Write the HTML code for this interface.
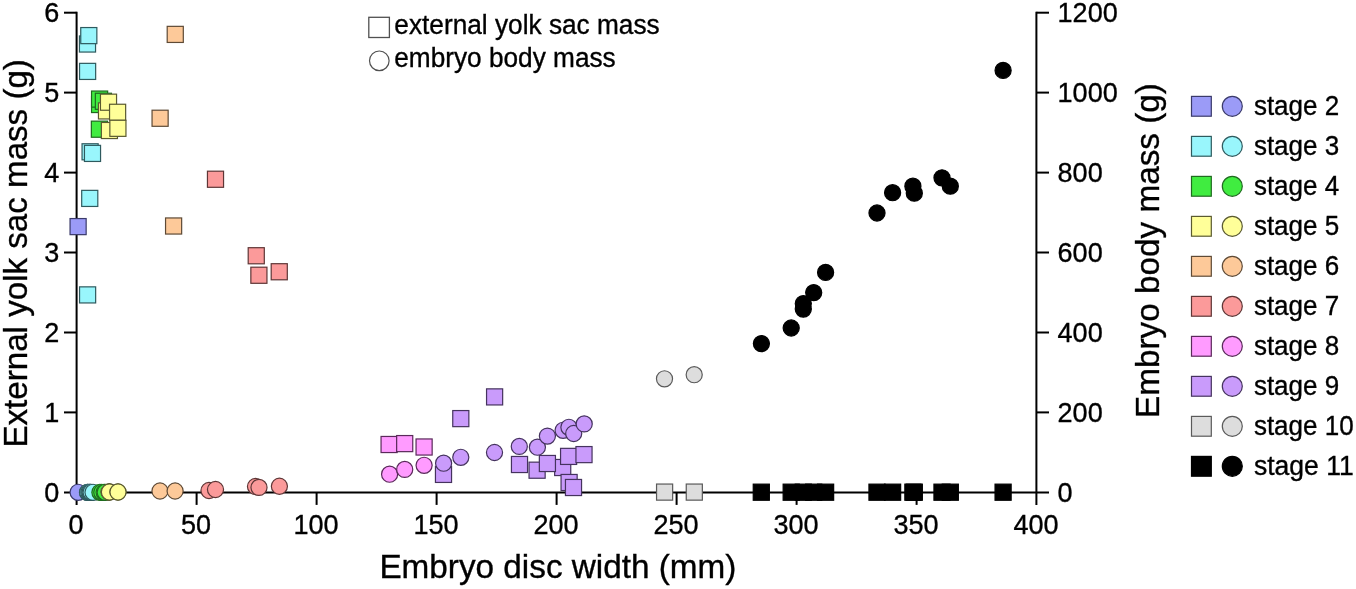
<!DOCTYPE html>
<html lang="en"><head><meta charset="utf-8"><title>Embryo disc width vs yolk sac and body mass</title>
<style>html,body{margin:0;padding:0;background:#fff;}body{width:1356px;height:589px;overflow:hidden;}svg{display:block;}text{font-family:"Liberation Sans",Arial,Helvetica,sans-serif;fill:#000;stroke:#000;stroke-width:0.35px;}</style>
</head><body>
<svg width="1356" height="589" viewBox="0 0 1356 589">
<rect x="0" y="0" width="1356" height="589" fill="#ffffff"/>
<g stroke="#000" stroke-width="2" fill="none" stroke-linecap="butt">
<path d="M76.6 11.7 V504.9"/>
<path d="M64.0 492.4 H1049.0"/>
<path d="M1036.4 11.7 V504.9"/>
<path d="M64.0 412.4 H76.6"/>
<path d="M1036.4 412.4 H1049.0"/>
<path d="M64.0 332.5 H76.6"/>
<path d="M1036.4 332.5 H1049.0"/>
<path d="M64.0 252.5 H76.6"/>
<path d="M1036.4 252.5 H1049.0"/>
<path d="M64.0 172.6 H76.6"/>
<path d="M1036.4 172.6 H1049.0"/>
<path d="M64.0 92.6 H76.6"/>
<path d="M1036.4 92.6 H1049.0"/>
<path d="M64.0 12.7 H76.6"/>
<path d="M1036.4 12.7 H1049.0"/>
<path d="M196.6 492.4 V504.9"/>
<path d="M316.6 492.4 V504.9"/>
<path d="M436.6 492.4 V504.9"/>
<path d="M556.6 492.4 V504.9"/>
<path d="M676.6 492.4 V504.9"/>
<path d="M796.6 492.4 V504.9"/>
<path d="M916.6 492.4 V504.9"/>
</g>
<g font-size="27">
<text x="59.2" y="502.1" text-anchor="end">0</text>
<text x="1057.6" y="502.1" text-anchor="start">0</text>
<text x="59.2" y="422.1" text-anchor="end">1</text>
<text x="1057.6" y="422.1" text-anchor="start">200</text>
<text x="59.2" y="342.2" text-anchor="end">2</text>
<text x="1057.6" y="342.2" text-anchor="start">400</text>
<text x="59.2" y="262.2" text-anchor="end">3</text>
<text x="1057.6" y="262.2" text-anchor="start">600</text>
<text x="59.2" y="182.3" text-anchor="end">4</text>
<text x="1057.6" y="182.3" text-anchor="start">800</text>
<text x="59.2" y="102.3" text-anchor="end">5</text>
<text x="1057.6" y="102.3" text-anchor="start">1000</text>
<text x="59.2" y="22.4" text-anchor="end">6</text>
<text x="1057.6" y="22.4" text-anchor="start">1200</text>
<text x="76.1" y="533.6" text-anchor="middle">0</text>
<text x="196.1" y="533.6" text-anchor="middle">50</text>
<text x="316.1" y="533.6" text-anchor="middle">100</text>
<text x="436.1" y="533.6" text-anchor="middle">150</text>
<text x="556.1" y="533.6" text-anchor="middle">200</text>
<text x="676.1" y="533.6" text-anchor="middle">250</text>
<text x="796.1" y="533.6" text-anchor="middle">300</text>
<text x="916.1" y="533.6" text-anchor="middle">350</text>
<text x="1036.1" y="533.6" text-anchor="middle">400</text>
</g>
<text font-size="32.5" x="379.4" y="578.1" textLength="357" lengthAdjust="spacingAndGlyphs">Embryo disc width (mm)</text>
<text font-size="32.5" transform="translate(27.4,447.6) rotate(-90)" textLength="388.5" lengthAdjust="spacingAndGlyphs">External yolk sac mass (g)</text>
<text font-size="32.5" transform="translate(1159.3,417.9) rotate(-90)" textLength="334.8" lengthAdjust="spacingAndGlyphs">Embryo body mass (g)</text>
<rect x="368.8" y="17.3" width="20.6" height="20.2" fill="#fff" stroke="#505050" stroke-width="1.3"/>
<circle cx="379.3" cy="60.8" r="9.8" fill="#fff" stroke="#505050" stroke-width="1.2"/>
<g font-size="27">
<text x="394.3" y="33.5" textLength="265.4" lengthAdjust="spacingAndGlyphs">external yolk sac mass</text>
<text x="394.3" y="67.3" textLength="221.4" lengthAdjust="spacingAndGlyphs">embryo body mass</text>
</g>
<g>
<rect x="70.05" y="218.55" width="16.10" height="16.10" fill="#9b9bf7" stroke="#3a3a6a" stroke-width="1.2"/>
<rect x="79.45" y="35.95" width="16.10" height="16.10" fill="#99f6fc" stroke="#2e5a5e" stroke-width="1.2"/>
<rect x="80.75" y="27.55" width="16.10" height="16.10" fill="#99f6fc" stroke="#2e5a5e" stroke-width="1.2"/>
<rect x="79.55" y="63.35" width="16.10" height="16.10" fill="#99f6fc" stroke="#2e5a5e" stroke-width="1.2"/>
<rect x="82.05" y="143.75" width="16.10" height="16.10" fill="#99f6fc" stroke="#2e5a5e" stroke-width="1.2"/>
<rect x="84.45" y="145.35" width="16.10" height="16.10" fill="#99f6fc" stroke="#2e5a5e" stroke-width="1.2"/>
<rect x="81.70" y="190.35" width="16.10" height="16.10" fill="#99f6fc" stroke="#2e5a5e" stroke-width="1.2"/>
<rect x="79.55" y="286.85" width="16.10" height="16.10" fill="#99f6fc" stroke="#2e5a5e" stroke-width="1.2"/>
<rect x="91.55" y="96.45" width="16.10" height="16.10" fill="#40ec40" stroke="#1f6a1f" stroke-width="1.2"/>
<rect x="91.55" y="91.05" width="16.10" height="16.10" fill="#40ec40" stroke="#1f6a1f" stroke-width="1.2"/>
<rect x="95.35" y="93.25" width="16.10" height="16.10" fill="#40ec40" stroke="#1f6a1f" stroke-width="1.2"/>
<rect x="91.35" y="121.15" width="16.10" height="16.10" fill="#40ec40" stroke="#1f6a1f" stroke-width="1.2"/>
<rect x="98.45" y="102.85" width="16.10" height="16.10" fill="#ffff99" stroke="#5a5a30" stroke-width="1.2"/>
<rect x="100.45" y="94.15" width="16.10" height="16.10" fill="#ffff99" stroke="#5a5a30" stroke-width="1.2"/>
<rect x="109.55" y="104.25" width="16.10" height="16.10" fill="#ffff99" stroke="#5a5a30" stroke-width="1.2"/>
<rect x="101.35" y="122.45" width="16.10" height="16.10" fill="#ffff99" stroke="#5a5a30" stroke-width="1.2"/>
<rect x="109.85" y="120.25" width="16.10" height="16.10" fill="#ffff99" stroke="#5a5a30" stroke-width="1.2"/>
<rect x="167.20" y="26.35" width="16.10" height="16.10" fill="#fdc999" stroke="#5e4a36" stroke-width="1.2"/>
<rect x="152.05" y="110.20" width="16.10" height="16.10" fill="#fdc999" stroke="#5e4a36" stroke-width="1.2"/>
<rect x="165.55" y="217.95" width="16.10" height="16.10" fill="#fdc999" stroke="#5e4a36" stroke-width="1.2"/>
<rect x="207.45" y="171.20" width="16.10" height="16.10" fill="#fb9a9a" stroke="#5e3636" stroke-width="1.2"/>
<rect x="248.20" y="247.70" width="16.10" height="16.10" fill="#fb9a9a" stroke="#5e3636" stroke-width="1.2"/>
<rect x="250.85" y="267.20" width="16.10" height="16.10" fill="#fb9a9a" stroke="#5e3636" stroke-width="1.2"/>
<rect x="271.20" y="263.70" width="16.10" height="16.10" fill="#fb9a9a" stroke="#5e3636" stroke-width="1.2"/>
<rect x="381.05" y="436.45" width="16.10" height="16.10" fill="#ff9bff" stroke="#5a2a5a" stroke-width="1.2"/>
<rect x="396.65" y="435.55" width="16.10" height="16.10" fill="#ff9bff" stroke="#5a2a5a" stroke-width="1.2"/>
<rect x="416.05" y="438.95" width="16.10" height="16.10" fill="#ff9bff" stroke="#5a2a5a" stroke-width="1.2"/>
<rect x="435.45" y="466.35" width="16.10" height="16.10" fill="#c99bfb" stroke="#45335e" stroke-width="1.2"/>
<rect x="452.75" y="410.55" width="16.10" height="16.10" fill="#c99bfb" stroke="#45335e" stroke-width="1.2"/>
<rect x="486.55" y="388.85" width="16.10" height="16.10" fill="#c99bfb" stroke="#45335e" stroke-width="1.2"/>
<rect x="511.45" y="456.45" width="16.10" height="16.10" fill="#c99bfb" stroke="#45335e" stroke-width="1.2"/>
<rect x="529.05" y="462.15" width="16.10" height="16.10" fill="#c99bfb" stroke="#45335e" stroke-width="1.2"/>
<rect x="554.65" y="459.45" width="16.10" height="16.10" fill="#c99bfb" stroke="#45335e" stroke-width="1.2"/>
<rect x="539.35" y="455.45" width="16.10" height="16.10" fill="#c99bfb" stroke="#45335e" stroke-width="1.2"/>
<rect x="560.55" y="448.35" width="16.10" height="16.10" fill="#c99bfb" stroke="#45335e" stroke-width="1.2"/>
<rect x="575.95" y="446.55" width="16.10" height="16.10" fill="#c99bfb" stroke="#45335e" stroke-width="1.2"/>
<rect x="561.05" y="474.45" width="16.10" height="16.10" fill="#c99bfb" stroke="#45335e" stroke-width="1.2"/>
<rect x="565.45" y="479.45" width="16.10" height="16.10" fill="#c99bfb" stroke="#45335e" stroke-width="1.2"/>
<rect x="656.55" y="484.05" width="16.10" height="16.10" fill="#dddddd" stroke="#5a5a5a" stroke-width="1.2"/>
<rect x="686.25" y="484.05" width="16.10" height="16.10" fill="#dddddd" stroke="#5a5a5a" stroke-width="1.2"/>
<rect x="753.25" y="484.15" width="16.10" height="16.10" fill="#000000" stroke="#000000" stroke-width="1.2"/>
<rect x="783.15" y="484.15" width="16.10" height="16.10" fill="#000000" stroke="#000000" stroke-width="1.2"/>
<rect x="795.25" y="484.15" width="16.10" height="16.10" fill="#000000" stroke="#000000" stroke-width="1.2"/>
<rect x="805.65" y="484.15" width="16.10" height="16.10" fill="#000000" stroke="#000000" stroke-width="1.2"/>
<rect x="817.55" y="484.15" width="16.10" height="16.10" fill="#000000" stroke="#000000" stroke-width="1.2"/>
<rect x="868.95" y="484.15" width="16.10" height="16.10" fill="#000000" stroke="#000000" stroke-width="1.2"/>
<rect x="884.55" y="484.15" width="16.10" height="16.10" fill="#000000" stroke="#000000" stroke-width="1.2"/>
<rect x="904.85" y="484.15" width="16.10" height="16.10" fill="#000000" stroke="#000000" stroke-width="1.2"/>
<rect x="906.25" y="484.15" width="16.10" height="16.10" fill="#000000" stroke="#000000" stroke-width="1.2"/>
<rect x="933.95" y="484.15" width="16.10" height="16.10" fill="#000000" stroke="#000000" stroke-width="1.2"/>
<rect x="942.25" y="484.15" width="16.10" height="16.10" fill="#000000" stroke="#000000" stroke-width="1.2"/>
<rect x="995.05" y="484.15" width="16.10" height="16.10" fill="#000000" stroke="#000000" stroke-width="1.2"/>
<circle cx="78.10" cy="492.30" r="8.05" fill="#9b9bf7" stroke="#3a3a6a" stroke-width="1.2"/>
<circle cx="87.50" cy="492.30" r="8.05" fill="#99f6fc" stroke="#2e5a5e" stroke-width="1.2"/>
<circle cx="87.60" cy="492.30" r="8.05" fill="#99f6fc" stroke="#2e5a5e" stroke-width="1.2"/>
<circle cx="88.80" cy="492.30" r="8.05" fill="#99f6fc" stroke="#2e5a5e" stroke-width="1.2"/>
<circle cx="89.90" cy="492.30" r="8.05" fill="#99f6fc" stroke="#2e5a5e" stroke-width="1.2"/>
<circle cx="90.10" cy="492.30" r="8.05" fill="#99f6fc" stroke="#2e5a5e" stroke-width="1.2"/>
<circle cx="91.10" cy="492.30" r="8.05" fill="#99f6fc" stroke="#2e5a5e" stroke-width="1.2"/>
<circle cx="93.00" cy="492.30" r="8.05" fill="#99f6fc" stroke="#2e5a5e" stroke-width="1.2"/>
<circle cx="99.90" cy="492.30" r="8.05" fill="#40ec40" stroke="#1f6a1f" stroke-width="1.2"/>
<circle cx="101.80" cy="492.30" r="8.05" fill="#40ec40" stroke="#1f6a1f" stroke-width="1.2"/>
<circle cx="104.10" cy="492.30" r="8.05" fill="#40ec40" stroke="#1f6a1f" stroke-width="1.2"/>
<circle cx="105.20" cy="492.30" r="8.05" fill="#40ec40" stroke="#1f6a1f" stroke-width="1.2"/>
<circle cx="109.00" cy="492.00" r="8.05" fill="#ffff99" stroke="#5a5a30" stroke-width="1.2"/>
<circle cx="109.40" cy="492.00" r="8.05" fill="#ffff99" stroke="#5a5a30" stroke-width="1.2"/>
<circle cx="109.40" cy="492.00" r="8.05" fill="#ffff99" stroke="#5a5a30" stroke-width="1.2"/>
<circle cx="118.00" cy="492.00" r="8.05" fill="#ffff99" stroke="#5a5a30" stroke-width="1.2"/>
<circle cx="118.00" cy="492.00" r="8.05" fill="#ffff99" stroke="#5a5a30" stroke-width="1.2"/>
<circle cx="160.00" cy="491.00" r="8.05" fill="#fdc999" stroke="#5e4a36" stroke-width="1.2"/>
<circle cx="175.10" cy="491.00" r="8.05" fill="#fdc999" stroke="#5e4a36" stroke-width="1.2"/>
<circle cx="209.00" cy="490.50" r="8.05" fill="#fb9a9a" stroke="#5e3636" stroke-width="1.2"/>
<circle cx="215.50" cy="489.50" r="8.05" fill="#fb9a9a" stroke="#5e3636" stroke-width="1.2"/>
<circle cx="255.50" cy="486.50" r="8.05" fill="#fb9a9a" stroke="#5e3636" stroke-width="1.2"/>
<circle cx="259.00" cy="487.40" r="8.05" fill="#fb9a9a" stroke="#5e3636" stroke-width="1.2"/>
<circle cx="279.40" cy="486.25" r="8.05" fill="#fb9a9a" stroke="#5e3636" stroke-width="1.2"/>
<circle cx="389.60" cy="474.20" r="8.05" fill="#ff9bff" stroke="#5a2a5a" stroke-width="1.2"/>
<circle cx="404.70" cy="469.40" r="8.05" fill="#ff9bff" stroke="#5a2a5a" stroke-width="1.2"/>
<circle cx="424.10" cy="465.30" r="8.05" fill="#ff9bff" stroke="#5a2a5a" stroke-width="1.2"/>
<circle cx="443.60" cy="463.20" r="8.05" fill="#c99bfb" stroke="#45335e" stroke-width="1.2"/>
<circle cx="460.80" cy="457.30" r="8.05" fill="#c99bfb" stroke="#45335e" stroke-width="1.2"/>
<circle cx="494.50" cy="452.50" r="8.05" fill="#c99bfb" stroke="#45335e" stroke-width="1.2"/>
<circle cx="519.30" cy="446.40" r="8.05" fill="#c99bfb" stroke="#45335e" stroke-width="1.2"/>
<circle cx="537.40" cy="447.20" r="8.05" fill="#c99bfb" stroke="#45335e" stroke-width="1.2"/>
<circle cx="547.40" cy="436.10" r="8.05" fill="#c99bfb" stroke="#45335e" stroke-width="1.2"/>
<circle cx="563.10" cy="430.30" r="8.05" fill="#c99bfb" stroke="#45335e" stroke-width="1.2"/>
<circle cx="568.90" cy="427.30" r="8.05" fill="#c99bfb" stroke="#45335e" stroke-width="1.2"/>
<circle cx="573.70" cy="433.50" r="8.05" fill="#c99bfb" stroke="#45335e" stroke-width="1.2"/>
<circle cx="584.20" cy="423.90" r="8.05" fill="#c99bfb" stroke="#45335e" stroke-width="1.2"/>
<circle cx="664.50" cy="378.80" r="8.05" fill="#dddddd" stroke="#5a5a5a" stroke-width="1.2"/>
<circle cx="694.20" cy="374.70" r="8.05" fill="#dddddd" stroke="#5a5a5a" stroke-width="1.2"/>
<circle cx="761.40" cy="343.60" r="8.05" fill="#000000" stroke="#000000" stroke-width="1.2"/>
<circle cx="791.20" cy="328.00" r="8.05" fill="#000000" stroke="#000000" stroke-width="1.2"/>
<circle cx="803.30" cy="309.10" r="8.05" fill="#000000" stroke="#000000" stroke-width="1.2"/>
<circle cx="803.30" cy="303.60" r="8.05" fill="#000000" stroke="#000000" stroke-width="1.2"/>
<circle cx="813.70" cy="292.60" r="8.05" fill="#000000" stroke="#000000" stroke-width="1.2"/>
<circle cx="825.60" cy="272.40" r="8.05" fill="#000000" stroke="#000000" stroke-width="1.2"/>
<circle cx="877.00" cy="213.00" r="8.05" fill="#000000" stroke="#000000" stroke-width="1.2"/>
<circle cx="892.60" cy="192.70" r="8.05" fill="#000000" stroke="#000000" stroke-width="1.2"/>
<circle cx="912.90" cy="186.20" r="8.05" fill="#000000" stroke="#000000" stroke-width="1.2"/>
<circle cx="914.30" cy="193.20" r="8.05" fill="#000000" stroke="#000000" stroke-width="1.2"/>
<circle cx="942.00" cy="177.80" r="8.05" fill="#000000" stroke="#000000" stroke-width="1.2"/>
<circle cx="950.30" cy="186.20" r="8.05" fill="#000000" stroke="#000000" stroke-width="1.2"/>
<circle cx="1003.10" cy="70.40" r="8.05" fill="#000000" stroke="#000000" stroke-width="1.2"/>
</g>
<g font-size="27">
<rect x="1191.50" y="96.40" width="19.80" height="19.80" fill="#9b9bf7" stroke="#3a3a6a" stroke-width="1.2"/>
<circle cx="1232.30" cy="106.30" r="10.00" fill="#9b9bf7" stroke="#3a3a6a" stroke-width="1.2"/>
<text x="1253.9" y="115.3" textLength="85.3" lengthAdjust="spacingAndGlyphs">stage 2</text>
<rect x="1191.50" y="136.40" width="19.80" height="19.80" fill="#99f6fc" stroke="#2e5a5e" stroke-width="1.2"/>
<circle cx="1232.30" cy="146.30" r="10.00" fill="#99f6fc" stroke="#2e5a5e" stroke-width="1.2"/>
<text x="1253.9" y="155.3" textLength="85.3" lengthAdjust="spacingAndGlyphs">stage 3</text>
<rect x="1191.50" y="176.40" width="19.80" height="19.80" fill="#40ec40" stroke="#1f6a1f" stroke-width="1.2"/>
<circle cx="1232.30" cy="186.30" r="10.00" fill="#40ec40" stroke="#1f6a1f" stroke-width="1.2"/>
<text x="1253.9" y="195.3" textLength="85.3" lengthAdjust="spacingAndGlyphs">stage 4</text>
<rect x="1191.50" y="216.40" width="19.80" height="19.80" fill="#ffff99" stroke="#5a5a30" stroke-width="1.2"/>
<circle cx="1232.30" cy="226.30" r="10.00" fill="#ffff99" stroke="#5a5a30" stroke-width="1.2"/>
<text x="1253.9" y="235.3" textLength="85.3" lengthAdjust="spacingAndGlyphs">stage 5</text>
<rect x="1191.50" y="256.40" width="19.80" height="19.80" fill="#fdc999" stroke="#5e4a36" stroke-width="1.2"/>
<circle cx="1232.30" cy="266.30" r="10.00" fill="#fdc999" stroke="#5e4a36" stroke-width="1.2"/>
<text x="1253.9" y="275.3" textLength="85.3" lengthAdjust="spacingAndGlyphs">stage 6</text>
<rect x="1191.50" y="296.40" width="19.80" height="19.80" fill="#fb9a9a" stroke="#5e3636" stroke-width="1.2"/>
<circle cx="1232.30" cy="306.30" r="10.00" fill="#fb9a9a" stroke="#5e3636" stroke-width="1.2"/>
<text x="1253.9" y="315.3" textLength="85.3" lengthAdjust="spacingAndGlyphs">stage 7</text>
<rect x="1191.50" y="336.40" width="19.80" height="19.80" fill="#ff9bff" stroke="#5a2a5a" stroke-width="1.2"/>
<circle cx="1232.30" cy="346.30" r="10.00" fill="#ff9bff" stroke="#5a2a5a" stroke-width="1.2"/>
<text x="1253.9" y="355.3" textLength="85.3" lengthAdjust="spacingAndGlyphs">stage 8</text>
<rect x="1191.50" y="376.40" width="19.80" height="19.80" fill="#c99bfb" stroke="#45335e" stroke-width="1.2"/>
<circle cx="1232.30" cy="386.30" r="10.00" fill="#c99bfb" stroke="#45335e" stroke-width="1.2"/>
<text x="1253.9" y="395.3" textLength="85.3" lengthAdjust="spacingAndGlyphs">stage 9</text>
<rect x="1191.50" y="416.40" width="19.80" height="19.80" fill="#dddddd" stroke="#5a5a5a" stroke-width="1.2"/>
<circle cx="1232.30" cy="426.30" r="10.00" fill="#dddddd" stroke="#5a5a5a" stroke-width="1.2"/>
<text x="1253.9" y="435.3" textLength="99.8" lengthAdjust="spacingAndGlyphs">stage 10</text>
<rect x="1191.50" y="456.40" width="19.80" height="19.80" fill="#000000" stroke="#000000" stroke-width="1.2"/>
<circle cx="1232.30" cy="466.30" r="10.00" fill="#000000" stroke="#000000" stroke-width="1.2"/>
<text x="1253.9" y="475.3" textLength="99.8" lengthAdjust="spacingAndGlyphs">stage 11</text>
</g>
</svg>
</body></html>
